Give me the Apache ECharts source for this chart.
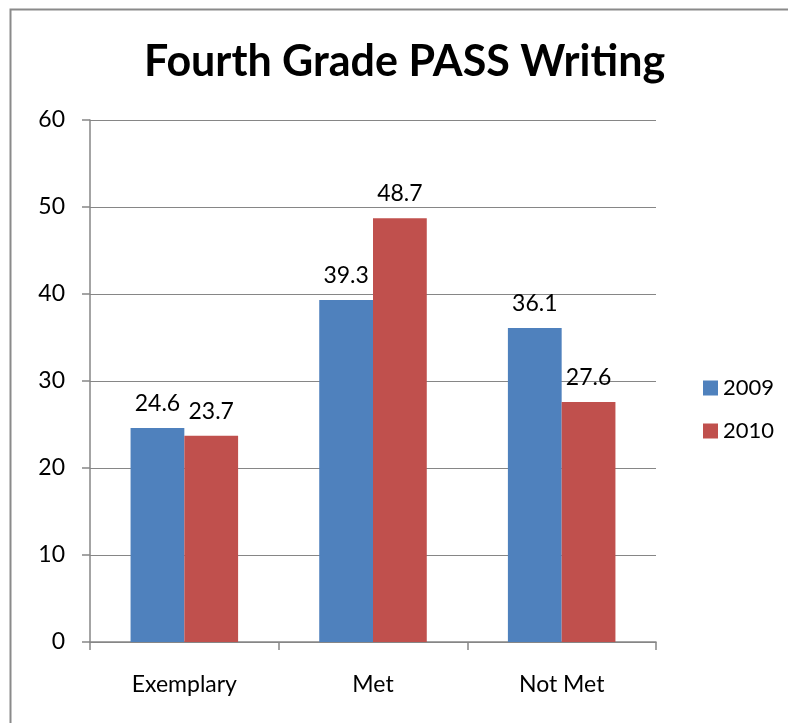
<!DOCTYPE html>
<html><head><meta charset="utf-8">
<script src="https://cdn.jsdelivr.net/npm/echarts@6/dist/echarts.min.js"></script>
<style>html,body{margin:0;padding:0;background:#fff}#c{width:788px;height:723px}</style>
</head><body><div id="c"></div>
<script>
const categories = ['Exemplary', 'Met', 'Not Met'];
const series2009 = [24.6, 39.3, 36.1];
const series2010 = [23.7, 48.7, 27.6];
const yTicks = {min: 0, max: 60, interval: 10};
const FONT = 'Lato, "Open Sans", sans-serif';
const chart = echarts.init(document.getElementById('c'));
const lbl = {show: true, position: 'top', distance: 13, fontSize: 23, color: '#000', fontFamily: FONT,
  formatter: p => p.value.toFixed(1)};
chart.setOption({
  animation: false,
  title: {text: 'Fourth Grade PASS Writing', left: 139, top: 36,
    textStyle: {fontSize: 43, fontWeight: 'bold', color: '#000', fontFamily: FONT}},
  graphic: [{type: 'rect', left: 8, top: 7, shape: {width: 800, height: 800},
    style: {fill: 'none', stroke: '#8a8a8a', lineWidth: 2}}],
  legend: {orient: 'vertical', left: 698, top: 372, itemGap: 21, itemWidth: 15, itemHeight: 15,
    icon: 'rect', textStyle: {fontSize: 22, color: '#000', fontFamily: FONT}},
  grid: {left: 90, right: 132, top: 120, bottom: 81},
  xAxis: {type: 'category', data: categories,
    axisLine: {lineStyle: {color: '#868686', width: 1.5}},
    axisTick: {show: true, length: 8, lineStyle: {color: '#868686', width: 1.5}},
    axisLabel: {fontSize: 23, color: '#000', margin: 31, fontFamily: FONT}},
  yAxis: {type: 'value', min: yTicks.min, max: yTicks.max, interval: yTicks.interval,
    axisLine: {show: true, lineStyle: {color: '#868686', width: 1.5}},
    axisTick: {show: true, length: 8, lineStyle: {color: '#868686', width: 1.5}},
    splitLine: {lineStyle: {color: '#868686', width: 1.2}},
    axisLabel: {fontSize: 23, color: '#000', margin: 25, fontFamily: FONT}},
  series: [
    {name: '2009', type: 'bar', data: series2009, itemStyle: {color: '#4F81BD'},
      barGap: '0%', barCategoryGap: '43%', label: lbl},
    {name: '2010', type: 'bar', data: series2010, itemStyle: {color: '#C0504D'},
      barGap: '0%', barCategoryGap: '43%', label: lbl}
  ]
});
</script></body></html>
